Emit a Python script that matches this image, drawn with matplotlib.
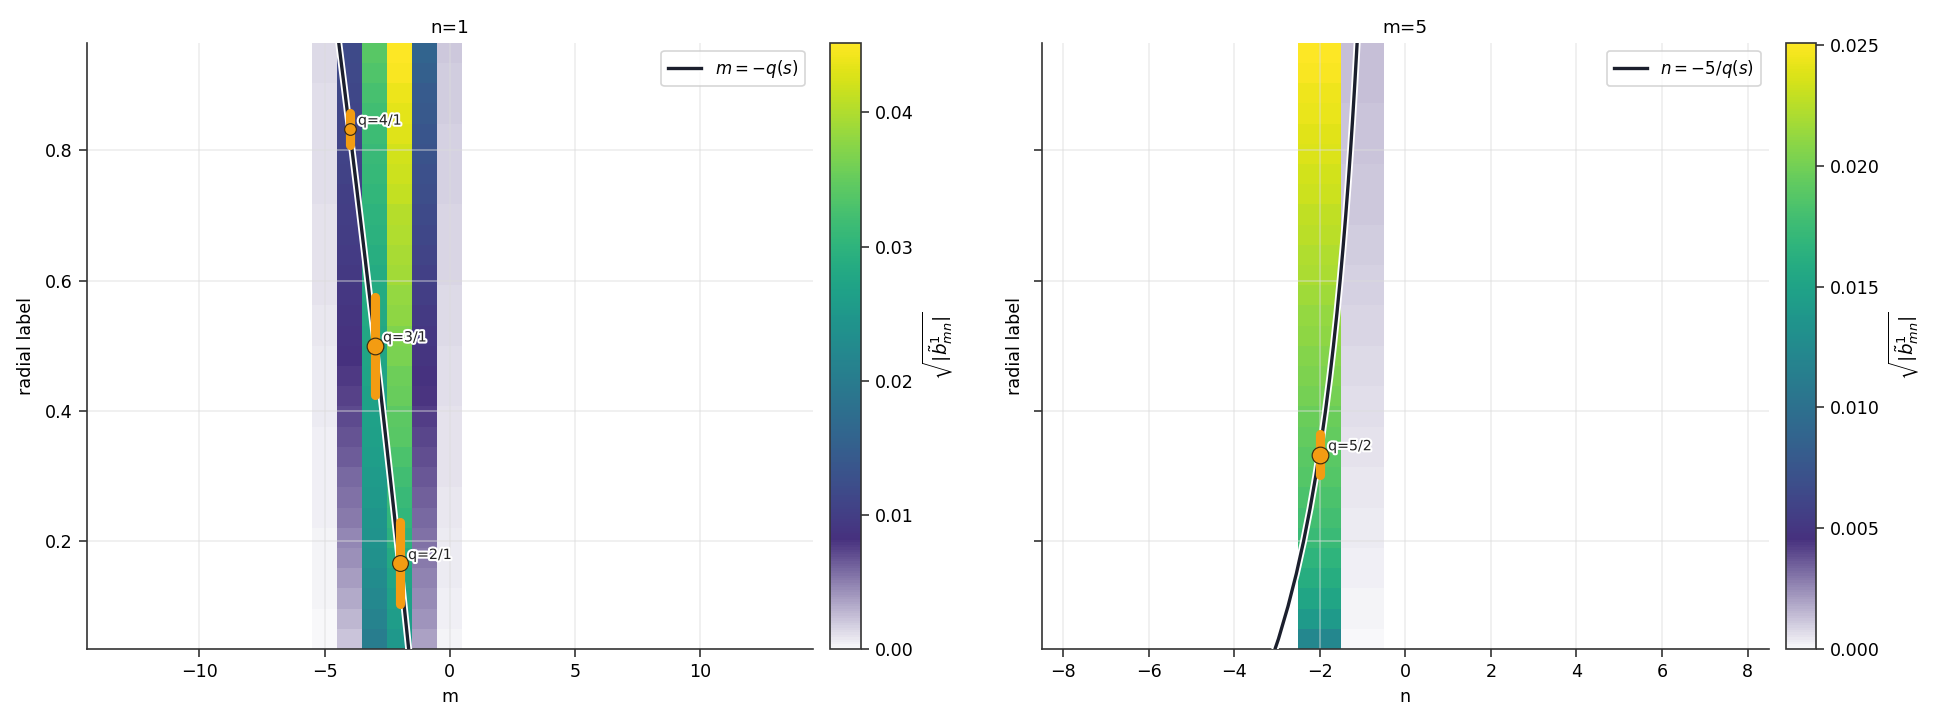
import numpy as np
import matplotlib
matplotlib.use("Agg")
import matplotlib.pyplot as plt
import matplotlib.patheffects as pe
from matplotlib.colors import LinearSegmentedColormap

plt.rcParams['font.family'] = ['DejaVu Sans']
plt.rcParams['font.size'] = 10.5

# ---------------- data ----------------
s_grid = np.linspace(0.05, 0.95, 30)          # radial label of rows (bottom -> top)

# panel 1 : n = 1, columns in m
m_cols = [-5, -4, -3, -2, -1, 0]
b_m_minus5 = [0.0001, 0.0001, 0.0002, 0.0002, 0.0003, 0.0003, 0.0004, 0.0004, 0.0004, 0.0005,
              0.0005, 0.0006, 0.0006, 0.0007, 0.0007, 0.0008, 0.0008, 0.0009, 0.0009, 0.0009,
              0.0010, 0.0010, 0.0011, 0.0011, 0.0011, 0.0012, 0.0012, 0.0012, 0.0013, 0.0013]
b_m_minus4 = [0.00226, 0.00280, 0.00334, 0.00384, 0.00429, 0.00475, 0.00515, 0.00556, 0.00597, 0.00637,
              0.00678, 0.00714, 0.00750, 0.00786, 0.00818, 0.00850, 0.00877, 0.00904, 0.00931, 0.00954,
              0.00976, 0.00999, 0.01022, 0.01044, 0.01067, 0.01089, 0.01112, 0.01130, 0.01153, 0.01175]
b_m_minus3 = [0.0203, 0.0212, 0.0221, 0.0229, 0.0238, 0.0242, 0.0247, 0.0251, 0.0255, 0.0260,
              0.0264, 0.0266, 0.0268, 0.0273, 0.0275, 0.0278, 0.0282, 0.0284, 0.0286, 0.0291,
              0.0295, 0.0299, 0.0304, 0.0308, 0.0312, 0.0317, 0.0321, 0.0325, 0.0332, 0.0339]
b_m_minus2 = [0.0250, 0.0258, 0.0266, 0.0274, 0.0284, 0.0295, 0.0304, 0.0312, 0.0321, 0.0330,
              0.0339, 0.0343, 0.0352, 0.0356, 0.0365, 0.0369, 0.0378, 0.0382, 0.0391, 0.0395,
              0.0400, 0.0404, 0.0413, 0.0417, 0.0421, 0.0430, 0.0434, 0.0439, 0.0447, 0.0452]
b_m_minus1 = [0.00362, 0.00407, 0.00452, 0.00488, 0.00520, 0.00556, 0.00588, 0.00624, 0.00660, 0.00696,
              0.00732, 0.00768, 0.00800, 0.00836, 0.00868, 0.00904, 0.00949, 0.00994, 0.01040, 0.01085,
              0.01130, 0.01175, 0.01220, 0.01266, 0.01311, 0.01356, 0.01401, 0.01446, 0.01514, 0.01582]
b_m_zero = [0.00027, 0.00036, 0.00045, 0.00054, 0.00063, 0.00070, 0.00077, 0.00084, 0.00090, 0.00095,
            0.00100, 0.00105, 0.00110, 0.00116, 0.00122, 0.00127, 0.00132, 0.00137, 0.00142, 0.00147,
            0.00152, 0.00157, 0.00162, 0.00167, 0.00172, 0.00176, 0.00180, 0.00185, 0.00190, 0.00196]

# panel 2 : m = 5, columns in n
n_cols = [-2, -1]
b_n_minus2 = [0.01217, 0.01408, 0.01529, 0.01601, 0.01672, 0.01744, 0.01792, 0.01827, 0.01865, 0.01900,
              0.01935, 0.01970, 0.02008, 0.02031, 0.02068, 0.02103, 0.02126, 0.02164, 0.02199, 0.02224,
              0.02259, 0.02282, 0.02319, 0.02342, 0.02379, 0.02402, 0.02427, 0.02450, 0.02485, 0.02510]
b_n_minus1 = [0.00005, 0.00010, 0.00015, 0.00020, 0.00025, 0.00030, 0.00035, 0.00040, 0.00045, 0.00050,
              0.00055, 0.00060, 0.00065, 0.00070, 0.00075, 0.00080, 0.00085, 0.00090, 0.00095, 0.00100,
              0.00105, 0.00108, 0.00113, 0.00115, 0.00120, 0.00123, 0.00126, 0.00128, 0.00131, 0.00133]

# safety-factor profile q(s)
q_s = [0.0, 0.05, 0.1, 0.15, 0.2, 0.25, 0.3, 0.35, 0.4, 0.45, 0.5,
       0.55, 0.6, 0.65, 0.7, 0.75, 0.8, 0.85, 0.9, 0.95, 1.0]
q_vals = [1.550, 1.686, 1.823, 1.962, 2.102, 2.244, 2.387, 2.532, 2.678, 2.826, 2.975,
          3.126, 3.278, 3.432, 3.587, 3.744, 3.902, 4.062, 4.223, 4.386, 4.550]

# rational surfaces: (label, position, s, half width, marker size)
res1_labels = ['q=4/1', 'q=3/1', 'q=2/1']
res1_m = [-4, -3, -2]
res1_s = [0.833, 0.500, 0.166]
res1_w = [0.025, 0.075, 0.063]
res1_ms = [7, 10, 9.5]

res2_labels = ['q=5/2']
res2_n = [-2]
res2_s = [0.333]
res2_w = [0.032]
res2_ms = [10]

# ---------------- style ----------------
vir = plt.get_cmap('viridis')
lo = [(0.0, '#f8f8fa'), (0.18, vir(0.14))]
hi = [(0.18 + 0.82 * t, vir(0.14 + 0.86 * t)) for t in np.linspace(0, 1, 40)[1:]]
cmap = LinearSegmentedColormap.from_list('wv', lo + hi)

ORANGE = '#f39c12'
LINE = '#1b1f2d'
SPINE = '#333333'

fig = plt.figure(figsize=(16.2, 724 / 120), dpi=120)
W, H = 1944, 724
ax1 = fig.add_axes([86.7 / W, 1 - 649 / H, (813 - 86.7) / W, (649 - 42.7) / H])
cax1 = fig.add_axes([830 / W, 1 - 649 / H, 31 / W, (649 - 42.7) / H])
ax2 = fig.add_axes([1041.7 / W, 1 - 649 / H, (1769 - 1041.7) / W, (649 - 42.7) / H])
cax2 = fig.add_axes([1786 / W, 1 - 649 / H, 30 / W, (649 - 42.7) / H])

ds = s_grid[1] - s_grid[0]
ylim = (s_grid[0] - ds / 2, s_grid[-1] + ds / 2)
stroke = [pe.Stroke(linewidth=4.2, foreground='white'), pe.Normal()]
txt_stroke = [pe.withStroke(linewidth=2.5, foreground='white')]


def style_axes(ax):
    for sp in ['top', 'right']:
        ax.spines[sp].set_visible(False)
    for sp in ['left', 'bottom']:
        ax.spines[sp].set_color(SPINE)
        ax.spines[sp].set_linewidth(1.0)
    ax.tick_params(colors=SPINE, labelcolor='black', length=5, width=1.0)
    ax.grid(True, color='#dcdcdc', alpha=0.5, lw=1.0)


# panel 1
Z1 = np.array([b_m_minus5, b_m_minus4, b_m_minus3, b_m_minus2, b_m_minus1, b_m_zero]).T
mesh1 = ax1.pcolormesh(m_cols, s_grid, Z1, shading='nearest', cmap=cmap,
                       vmin=0, vmax=Z1.max(), zorder=1)
qq = np.array(q_vals)
ax1.plot(-qq, q_s, color=LINE, lw=2, path_effects=stroke, zorder=3, label=r'$m=-q(s)$')
for lab, x, s, w, ms in zip(res1_labels, res1_m, res1_s, res1_w, res1_ms):
    ax1.plot([x, x], [s - w, s + w], color=ORANGE, lw=5.5, solid_capstyle='round', zorder=4)
    ax1.plot([x], [s], 'o', ms=ms, mfc=ORANGE, mec='#3a2a10', mew=0.7, zorder=5)
    ax1.annotate(lab, (x, s), xytext=(5, 5), textcoords='offset points', fontsize=8.5,
                 va='center', ha='left', color='#222222', path_effects=txt_stroke, zorder=6)
ax1.set_xlim(-14.5, 14.5)
ax1.set_ylim(*ylim)
ax1.set_xticks([-10, -5, 0, 5, 10])
ax1.set_yticks([0.2, 0.4, 0.6, 0.8])
ax1.set_xlabel('m')
ax1.set_ylabel('radial label', labelpad=6)
ax1.set_title('n=1', fontsize=11)
style_axes(ax1)
ax1.legend(loc='upper right', fontsize=10, frameon=True, edgecolor='#cccccc', fancybox=True)

cb1 = fig.colorbar(mesh1, cax=cax1)
cb1.set_label(r'$\sqrt{|\tilde{b}^{1}_{mn}|}$', fontsize=11)
cb1.outline.set_edgecolor(SPINE)
cb1.outline.set_linewidth(1.0)
cax1.tick_params(colors=SPINE, labelcolor='black', length=5, width=1.0)

# panel 2
Z2 = np.array([b_n_minus2, b_n_minus1]).T
mesh2 = ax2.pcolormesh(n_cols, s_grid, Z2, shading='nearest', cmap=cmap,
                       vmin=0, vmax=Z2.max(), zorder=1)
ax2.plot(-5 / qq, q_s, color=LINE, lw=2, path_effects=stroke, zorder=3, label=r'$n=-5/q(s)$')
for lab, x, s, w, ms in zip(res2_labels, res2_n, res2_s, res2_w, res2_ms):
    ax2.plot([x, x], [s - w, s + w], color=ORANGE, lw=5.5, solid_capstyle='round', zorder=4)
    ax2.plot([x], [s], 'o', ms=ms, mfc=ORANGE, mec='#3a2a10', mew=0.7, zorder=5)
    ax2.annotate(lab, (x, s), xytext=(5, 5), textcoords='offset points', fontsize=8.5,
                 va='center', ha='left', color='#222222', path_effects=txt_stroke, zorder=6)
ax2.set_xlim(-8.5, 8.5)
ax2.set_ylim(*ylim)
ax2.set_xticks([-8, -6, -4, -2, 0, 2, 4, 6, 8])
ax2.set_yticks([0.2, 0.4, 0.6, 0.8])
ax2.set_yticklabels([])
ax2.set_xlabel('n')
ax2.set_ylabel('radial label', labelpad=2)
ax2.set_title('m=5', fontsize=11)
style_axes(ax2)
ax2.legend(loc='upper right', fontsize=10, frameon=True, edgecolor='#cccccc', fancybox=True)

cb2 = fig.colorbar(mesh2, cax=cax2)
cb2.set_label(r'$\sqrt{|\tilde{b}^{1}_{mn}|}$', fontsize=11)
cb2.outline.set_edgecolor(SPINE)
cb2.outline.set_linewidth(1.0)
cax2.tick_params(colors=SPINE, labelcolor='black', length=5, width=1.0)

fig.savefig('out.png', dpi=120)
